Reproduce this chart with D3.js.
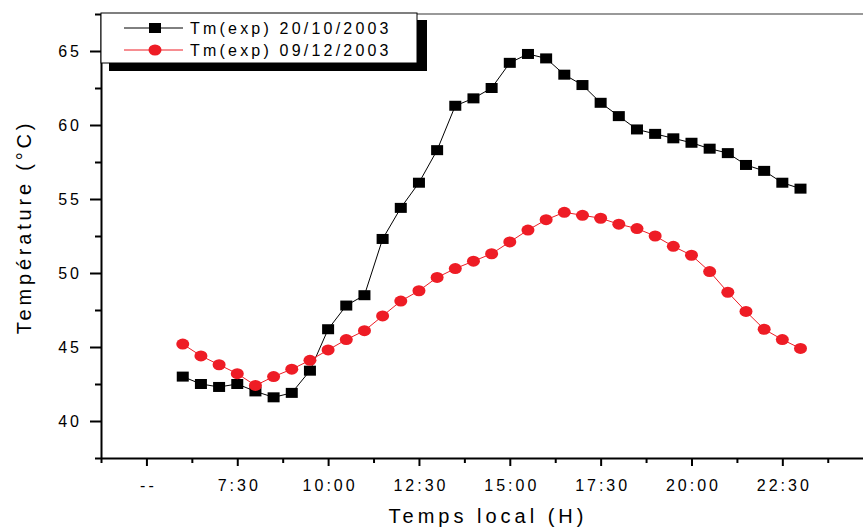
<!DOCTYPE html>
<html>
<head>
<meta charset="utf-8">
<script src="https://cdn.jsdelivr.net/npm/d3@7"></script>
<style>
  body { margin: 0; background: #fff; }
  svg text { font-family: "Liberation Sans", Arial, sans-serif; fill: #000; }
</style>
</head>
<body>
<div id="chart"></div>
<script>
// local time in hours, one reading every half hour
const hours = [6, 6.5, 7, 7.5, 8, 8.5, 9, 9.5, 10, 10.5, 11, 11.5, 12, 12.5, 13, 13.5, 14, 14.5,
  15, 15.5, 16, 16.5, 17, 17.5, 18, 18.5, 19, 19.5, 20, 20.5, 21, 21.5, 22, 22.5, 23];

const tmOct = [43.0, 42.5, 42.3, 42.5, 42.0, 41.6, 41.9, 43.4, 46.2, 47.8, 48.5, 52.3, 54.4, 56.1, 58.3, 61.3, 61.8, 62.5,
  64.2, 64.8, 64.5, 63.4, 62.7, 61.5, 60.6, 59.7, 59.4, 59.1, 58.8, 58.4, 58.1, 57.3, 56.9, 56.1, 55.7];

const tmDec = [45.2, 44.4, 43.8, 43.2, 42.4, 43.0, 43.5, 44.1, 44.8, 45.5, 46.1, 47.1, 48.1, 48.8, 49.7, 50.3, 50.8, 51.3,
  52.1, 52.9, 53.6, 54.1, 53.9, 53.7, 53.3, 53.0, 52.5, 51.8, 51.2, 50.1, 48.7, 47.4, 46.2, 45.5, 44.9];

const xTicks = [5, 7.5, 10, 12.5, 15, 17.5, 20, 22.5];
const xTickLabels = ['--', '7:30', '10:00', '12:30', '15:00', '17:30', '20:00', '22:30'];
const xMinor = [3.75, 6.25, 8.75, 11.25, 13.75, 16.25, 18.75, 21.25, 23.75];
const yTicks = [40, 45, 50, 55, 60, 65];
const yMinor = [37.5, 42.5, 47.5, 52.5, 57.5, 62.5, 67.5];

const series = [
  { name: 'Tm(exp) 20/10/2003', values: tmOct, color: '#000', marker: 'square' },
  { name: 'Tm(exp) 09/12/2003', values: tmDec, color: '#ee1c25', marker: 'circle' }
];

const W = 863, H = 529;
const plot = { left: 101, right: 863, top: 14, bottom: 458 };

const svg = d3.select('#chart').append('svg')
  .attr('width', W)
  .attr('height', H);

const x = d3.scaleLinear().domain([3.75, 24.72]).range([plot.left, plot.right]);
const y = d3.scaleLinear().domain([37.5, 67.5]).range([plot.bottom, plot.top]);

// top frame line
svg.append('line')
  .attr('x1', plot.left).attr('x2', plot.right)
  .attr('y1', plot.top).attr('y2', plot.top)
  .attr('stroke', '#777').attr('stroke-width', 1.5);

// minor ticks
svg.append('g')
  .attr('transform', `translate(0,${plot.bottom})`)
  .call(d3.axisBottom(x).tickValues(xMinor).tickSize(5).tickSizeOuter(0).tickFormat(''))
  .call(g => g.select('.domain').remove())
  .selectAll('line').attr('stroke-width', 2);

svg.append('g')
  .attr('transform', `translate(${plot.left},0)`)
  .call(d3.axisLeft(y).tickValues(yMinor).tickSize(6).tickSizeOuter(0).tickFormat(''))
  .call(g => g.select('.domain').remove())
  .selectAll('line').attr('stroke-width', 2);

// x axis
const xAxis = svg.append('g')
  .attr('transform', `translate(0,${plot.bottom})`)
  .call(d3.axisBottom(x).tickValues(xTicks).tickSize(8).tickSizeOuter(0)
    .tickFormat((d, i) => xTickLabels[i]));
xAxis.select('.domain').attr('stroke-width', 2);
xAxis.selectAll('line').attr('stroke-width', 2);
xAxis.selectAll('text')
  .attr('y', 22)
  .attr('dx', '1.5px')
  .style('font-size', '16px')
  .style('letter-spacing', '3px');

// y axis
const yAxis = svg.append('g')
  .attr('transform', `translate(${plot.left},0)`)
  .call(d3.axisLeft(y).tickValues(yTicks).tickSize(11).tickSizeOuter(0));
yAxis.select('.domain').attr('stroke-width', 2);
yAxis.selectAll('line').attr('stroke-width', 2);
yAxis.selectAll('text')
  .attr('x', -19)
  .style('font-size', '16px')
  .style('letter-spacing', '3px');

// axis titles
svg.append('text')
  .attr('x', 488)
  .attr('y', 523)
  .attr('text-anchor', 'middle')
  .style('font-size', '20px')
  .style('letter-spacing', '4px')
  .text('Temps local (H)');

svg.append('text')
  .attr('transform', 'translate(31,227) rotate(-90)')
  .attr('text-anchor', 'middle')
  .style('font-size', '20px')
  .style('letter-spacing', '3.8px')
  .text('Température (°C)');

// lines and markers
const line = d3.line()
  .x((d, i) => x(hours[i]))
  .y(d => y(d));

function drawMarker(sel, s) {
  if (s.marker === 'square') {
    sel.append('rect')
      .attr('x', -6).attr('y', -5)
      .attr('width', 12).attr('height', 10)
      .attr('fill', s.color);
  } else {
    sel.append('ellipse')
      .attr('rx', 6.5).attr('ry', 5.5)
      .attr('fill', s.color);
  }
}

series.forEach(s => {
  svg.append('path')
    .datum(s.values)
    .attr('d', line)
    .attr('fill', 'none')
    .attr('stroke', s.color)
    .attr('stroke-width', 1);

  svg.append('g')
    .selectAll('g')
    .data(s.values)
    .join('g')
      .attr('transform', (d, i) => `translate(${x(hours[i])},${y(d)})`)
      .each(function () { drawMarker(d3.select(this), s); });
});

// legend with drop shadow
const legend = svg.append('g');
legend.append('rect')
  .attr('x', 109).attr('y', 20)
  .attr('width', 318).attr('height', 51)
  .attr('fill', '#000');
legend.append('rect')
  .attr('x', 101).attr('y', 13)
  .attr('width', 316).attr('height', 50)
  .attr('fill', '#fff')
  .attr('stroke', '#000')
  .attr('stroke-width', 1);

series.forEach((s, i) => {
  const ly = 28 + i * 22;
  const row = legend.append('g');
  row.append('line')
    .attr('x1', 124).attr('x2', 183)
    .attr('y1', ly).attr('y2', ly)
    .attr('stroke', s.color).attr('stroke-width', 1);
  drawMarker(row.append('g').attr('transform', `translate(155,${ly})`), s);
  row.append('text')
    .attr('x', 190)
    .attr('y', ly)
    .attr('dy', '0.35em')
    .style('font-size', '16px')
    .style('letter-spacing', '3.2px')
    .text(s.name);
});
</script>
</body>
</html>
